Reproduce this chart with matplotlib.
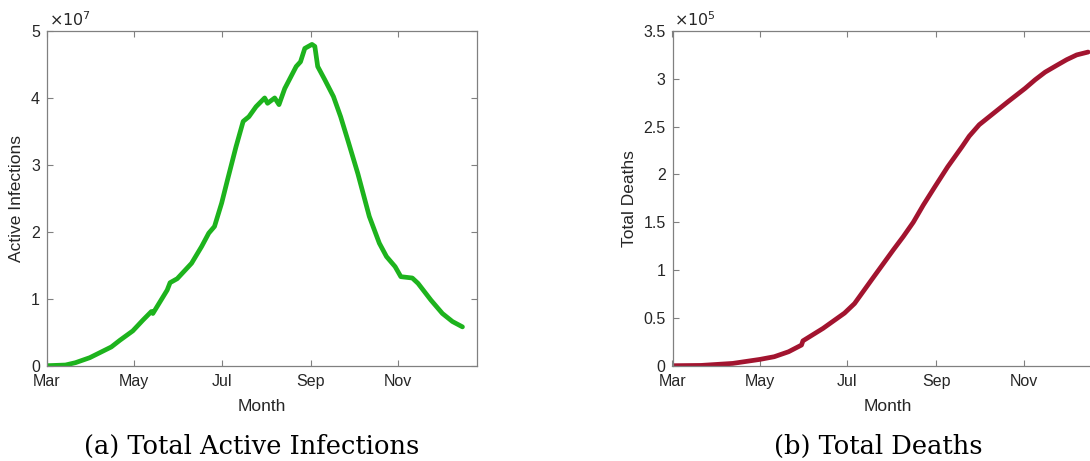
import numpy as np
import pandas as pd
import matplotlib
matplotlib.use('Agg')
import matplotlib.pyplot as plt
import matplotlib.dates as mdates
from matplotlib.ticker import FuncFormatter

# days counted from 1 Mar 2020
start = pd.Timestamp('2020-03-01')

active_days = [0, 13, 20, 30, 45, 51, 60, 67, 73, 74, 84, 86, 91, 101, 108, 113, 117,
               122, 126, 132, 137, 141, 146, 152, 154, 159, 162, 166, 174, 177, 180,
               185, 187, 189, 194, 200, 205, 210, 217, 225, 232, 237, 243, 247, 255,
               259, 268, 276, 283, 290]
active_infections = [0.0, 0.01, 0.045, 0.12, 0.28, 0.38, 0.52, 0.68, 0.81, 0.78, 1.13,
                     1.24, 1.30, 1.53, 1.78, 1.98, 2.08, 2.43, 2.77, 3.27, 3.65, 3.72,
                     3.87, 4.00, 3.92, 4.00, 3.90, 4.14, 4.47, 4.54, 4.74, 4.80, 4.77,
                     4.47, 4.27, 4.02, 3.72, 3.37, 2.87, 2.23, 1.83, 1.63, 1.48, 1.33,
                     1.31, 1.23, 0.98, 0.78, 0.66, 0.58]  # x 1e7

death_days = [0, 20, 42, 61, 71, 81, 90, 91, 105, 120, 127, 139, 154, 161, 168, 175,
              183, 192, 202, 207, 214, 224, 234, 246, 253, 260, 268, 275, 282, 290]
total_deaths = [0.0, 0.003, 0.024, 0.066, 0.094, 0.146, 0.216, 0.26, 0.39, 0.55, 0.65,
                0.90, 1.21, 1.35, 1.50, 1.68, 1.87, 2.08, 2.29, 2.40, 2.52, 2.64, 2.76,
                2.90, 2.99, 3.07, 3.14, 3.20, 3.25, 3.28]  # x 1e5

month_ticks = ['2020-03-01', '2020-05-01', '2020-07-01', '2020-09-01', '2020-11-01']

active_x = start + pd.to_timedelta(active_days, unit='D')
death_x = start + pd.to_timedelta(death_days, unit='D')
active_y = np.array(active_infections) * 1e7
death_y = np.array(total_deaths) * 1e5

txt = '#262626'
spine = '#808080'
plt.rcParams['font.family'] = ['Liberation Sans', 'DejaVu Sans']

fig = plt.figure(figsize=(10.9, 4.61), dpi=100)
W, H = 1090, 461
ax1 = fig.add_axes([46.8 / W, 95.3 / H, 430 / W, 334.7 / H])
ax2 = fig.add_axes([672.5 / W, 95.3 / H, 430 / W, 334.7 / H])

ax1.plot(active_x, active_y, color='#1db31d', lw=3.4, solid_capstyle='round')
ax2.plot(death_x, death_y, color='#a2142f', lw=3.4, solid_capstyle='round')


def style(ax, ymax, step, exp, ylabel, labx):
    ax.set_xlim(start, start + pd.Timedelta(days=300))
    ax.set_ylim(0, ymax)
    ax.set_xticks(pd.to_datetime(month_ticks))
    ax.xaxis.set_major_formatter(mdates.DateFormatter('%b'))
    ax.set_yticks(np.arange(0, ymax + step / 2, step))
    ax.yaxis.set_major_formatter(FuncFormatter(lambda v, _: f'{v / 10**exp:g}'))
    ax.tick_params(direction='in', top=True, right=True, length=4, width=0.8,
                   color=spine, labelcolor=txt, labelsize=11.5)
    ax.tick_params(axis='x', pad=6)
    ax.tick_params(axis='y', pad=5)
    for s in ax.spines.values():
        s.set_color(spine)
        s.set_linewidth(0.9)
    ax.set_xlabel('Month', fontsize=12.5, color=txt)
    ax.set_ylabel(ylabel, fontsize=12.5, color=txt)
    ax.xaxis.set_label_coords(0.5, -0.1)
    ax.yaxis.set_label_coords(labx, 0.5)
    ax.text(0.004, 1.006, r'$\times 10^{%d}$' % exp, transform=ax.transAxes,
            fontsize=11.5, color=txt, ha='left', va='bottom')


style(ax1, 5e7, 1e7, 7, 'Active Infections', -0.052)
style(ax2, 3.5e5, 0.5e5, 5, 'Total Deaths', -0.083)

fig.text(252 / W, 1 - 446 / H, '(a) Total Active Infections', family='DejaVu Serif',
         fontsize=18.5, ha='center', va='center', color='black')
fig.text(878 / W, 1 - 446 / H, '(b) Total Deaths', family='DejaVu Serif',
         fontsize=18.5, ha='center', va='center', color='black')

fig.savefig('out.png', dpi=100)
